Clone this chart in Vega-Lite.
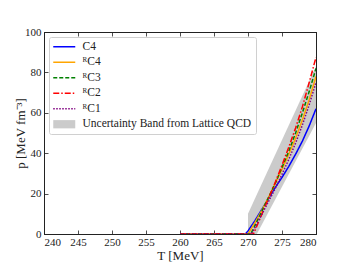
{
  "$schema": "https://vega.github.io/schema/vega-lite/v6.json",
  "width": 272,
  "height": 202,
  "autosize": {"type": "none"},
  "padding": {"left": 44, "top": 32, "right": 36, "bottom": 30},
  "config": {
    "view": {"stroke": "#222", "strokeWidth": 1},
    "font": "Liberation Serif",
    "axis": {
      "grid": false,
      "domainColor": "#222",
      "domainWidth": 1,
      "tickColor": "#222",
      "tickSize": -4,
      "tickWidth": 0.8,
      "labelFont": "Liberation Serif",
      "labelFontSize": 11,
      "labelColor": "#222",
      "titleFont": "Liberation Serif",
      "titleFontSize": 13,
      "titleFontWeight": "normal",
      "titleColor": "#222"
    },
    "legend": {
      "orient": "top-left", "offset": 5, "symbolType": "M-1,0H3", "symbolSize": 121,
      "symbolStrokeWidth": 1.6, "labelFont": "Liberation Serif", "labelFontSize": 11.5,
      "labelColor": "#222", "fillColor": "white", "strokeColor": "#d0d0d0", "cornerRadius": 2,
      "padding": 4, "rowPadding": 2.5, "labelOffset": 18, "labelLimit": 300
    }
  },
  "resolve": {"axis": {"x": "independent", "y": "independent"}},
  "layer": [
    {
      "data": {"values": [
        {"T": 270, "lo": 0, "hi": 10, "series": "Uncertainty Band from Lattice QCD"},
        {"T": 271.3, "lo": 0, "hi": 19.5, "series": "Uncertainty Band from Lattice QCD"},
        {"T": 280, "lo": 55, "hi": 83, "series": "Uncertainty Band from Lattice QCD"}
      ]},
      "mark": {"type": "area", "opacity": 1},
      "encoding": {
        "x": {"field": "T", "type": "quantitative", "scale": {"domain": [240, 280], "nice": false, "zero": false},
              "axis": {"orient": "top", "labels": false, "title": null, "values": [240,245,250,255,260,265,270,275,280]}},
        "y": {"field": "lo", "type": "quantitative", "scale": {"domain": [0, 100], "nice": false},
              "axis": {"orient": "right", "labels": false, "title": null, "values": [0,20,40,60,80,100]}},
        "y2": {"field": "hi"},
        "color": {"field": "series", "type": "nominal", "title": null,
          "scale": {"domain": ["C4", "ᴿC4", "ᴿC3", "ᴿC2", "ᴿC1", "Uncertainty Band from Lattice QCD"],
                    "range": ["#0000ff", "#ffa500", "#008000", "#ff0000", "#800080", "#cbcbcb"]},
          "legend": {
            "encode": {
              "symbols": {"update": {
                "shape": {"signal": "datum.value === 'Uncertainty Band from Lattice QCD' ? 'M-1,-0.75H3V0.75H-1Z' : 'M-1,0H3'"},
                "fill": {"signal": "datum.value === 'Uncertainty Band from Lattice QCD' ? '#cbcbcb' : 'transparent'"},
                "fillOpacity": {"value": 1},
                "strokeWidth": {"signal": "datum.value === 'Uncertainty Band from Lattice QCD' ? 0 : 1.6"}}},
              "labels": {"update": {"font": {"value": "Liberation Serif"}}}
            }
          }
        }
      }
    },
    {
      "data": {"values": [
        {"series": "C4", "T": 260, "p": 0}, {"series": "C4", "T": 269.6, "p": 0}, {"series": "C4", "T": 270, "p": 1.5},
        {"series": "C4", "T": 271, "p": 6.5}, {"series": "C4", "T": 272, "p": 12}, {"series": "C4", "T": 273, "p": 17.5},
        {"series": "C4", "T": 274, "p": 23}, {"series": "C4", "T": 275, "p": 28}, {"series": "C4", "T": 276, "p": 33.5},
        {"series": "C4", "T": 277, "p": 39.5}, {"series": "C4", "T": 278, "p": 46}, {"series": "C4", "T": 279, "p": 53.5},
        {"series": "C4", "T": 280, "p": 62},
        {"series": "ᴿC4", "T": 260, "p": 0}, {"series": "ᴿC4", "T": 270, "p": 0}, {"series": "ᴿC4", "T": 271, "p": 5.5},
        {"series": "ᴿC4", "T": 272, "p": 11.5}, {"series": "ᴿC4", "T": 273, "p": 18}, {"series": "ᴿC4", "T": 274, "p": 25},
        {"series": "ᴿC4", "T": 275, "p": 32}, {"series": "ᴿC4", "T": 276, "p": 39.5}, {"series": "ᴿC4", "T": 277, "p": 47.5},
        {"series": "ᴿC4", "T": 278, "p": 56.5}, {"series": "ᴿC4", "T": 279, "p": 66.5}, {"series": "ᴿC4", "T": 280, "p": 78},
        {"series": "ᴿC3", "T": 260, "p": 0}, {"series": "ᴿC3", "T": 270.4, "p": 0}, {"series": "ᴿC3", "T": 271, "p": 4},
        {"series": "ᴿC3", "T": 272, "p": 11}, {"series": "ᴿC3", "T": 273, "p": 18}, {"series": "ᴿC3", "T": 274, "p": 25},
        {"series": "ᴿC3", "T": 275, "p": 33}, {"series": "ᴿC3", "T": 276, "p": 41}, {"series": "ᴿC3", "T": 277, "p": 50},
        {"series": "ᴿC3", "T": 278, "p": 60}, {"series": "ᴿC3", "T": 279, "p": 70.5}, {"series": "ᴿC3", "T": 280, "p": 82},
        {"series": "ᴿC2", "T": 260, "p": 0}, {"series": "ᴿC2", "T": 270.8, "p": 0}, {"series": "ᴿC2", "T": 271, "p": 1.5},
        {"series": "ᴿC2", "T": 272, "p": 9.5}, {"series": "ᴿC2", "T": 273, "p": 17.5}, {"series": "ᴿC2", "T": 274, "p": 25.5},
        {"series": "ᴿC2", "T": 275, "p": 34}, {"series": "ᴿC2", "T": 276, "p": 43}, {"series": "ᴿC2", "T": 277, "p": 52.5},
        {"series": "ᴿC2", "T": 278, "p": 63}, {"series": "ᴿC2", "T": 279, "p": 75}, {"series": "ᴿC2", "T": 280, "p": 87.5},
        {"series": "ᴿC1", "T": 260, "p": 0}, {"series": "ᴿC1", "T": 270.5, "p": 0}, {"series": "ᴿC1", "T": 271, "p": 3},
        {"series": "ᴿC1", "T": 272, "p": 9.5}, {"series": "ᴿC1", "T": 273, "p": 16}, {"series": "ᴿC1", "T": 274, "p": 22.5},
        {"series": "ᴿC1", "T": 275, "p": 29.5}, {"series": "ᴿC1", "T": 276, "p": 37}, {"series": "ᴿC1", "T": 277, "p": 45},
        {"series": "ᴿC1", "T": 278, "p": 54}, {"series": "ᴿC1", "T": 279, "p": 64}, {"series": "ᴿC1", "T": 280, "p": 75}
      ]},
      "mark": {"type": "line", "strokeWidth": 1.5, "clip": true},
      "encoding": {
        "x": {"field": "T", "type": "quantitative",
              "axis": {"orient": "bottom", "title": "T [MeV]", "titlePadding": 2, "labelPadding": 6, "values": [240,245,250,255,260,265,270,275,280]}},
        "y": {"field": "p", "type": "quantitative",
              "axis": {"orient": "left", "title": "p [MeV fm⁻³]", "titlePadding": -3, "labelPadding": 7, "values": [0,20,40,60,80,100]}},
        "color": {"field": "series", "type": "nominal", "title": null,
          "legend": {
            "encode": {
              "symbols": {"update": {
                "shape": {"signal": "datum.value === 'Uncertainty Band from Lattice QCD' ? 'M-1,-0.75H3V0.75H-1Z' : 'M-1,0H3'"},
                "fill": {"signal": "datum.value === 'Uncertainty Band from Lattice QCD' ? '#cbcbcb' : 'transparent'"},
                "fillOpacity": {"value": 1},
                "strokeWidth": {"signal": "datum.value === 'Uncertainty Band from Lattice QCD' ? 0 : 1.6"}}},
              "labels": {"update": {"font": {"value": "Liberation Serif"}}}
            }
          }},
        "strokeDash": {"field": "series", "type": "nominal", "title": null,
          "scale": {"domain": ["C4", "ᴿC4", "ᴿC3", "ᴿC2", "ᴿC1", "Uncertainty Band from Lattice QCD"],
                    "range": [[1, 0], [1, 0], [4, 2], [6, 2, 1.5, 2], [1.5, 1.5], [1, 0]]},
          "legend": {
            "encode": {
              "symbols": {"update": {
                "shape": {"signal": "datum.value === 'Uncertainty Band from Lattice QCD' ? 'M-1,-0.75H3V0.75H-1Z' : 'M-1,0H3'"},
                "fill": {"signal": "datum.value === 'Uncertainty Band from Lattice QCD' ? '#cbcbcb' : 'transparent'"},
                "fillOpacity": {"value": 1},
                "strokeWidth": {"signal": "datum.value === 'Uncertainty Band from Lattice QCD' ? 0 : 1.6"}}},
              "labels": {"update": {"font": {"value": "Liberation Serif"}}}
            }
          }},
        "order": {"field": "T", "type": "quantitative"}
      }
    }
  ]
}
